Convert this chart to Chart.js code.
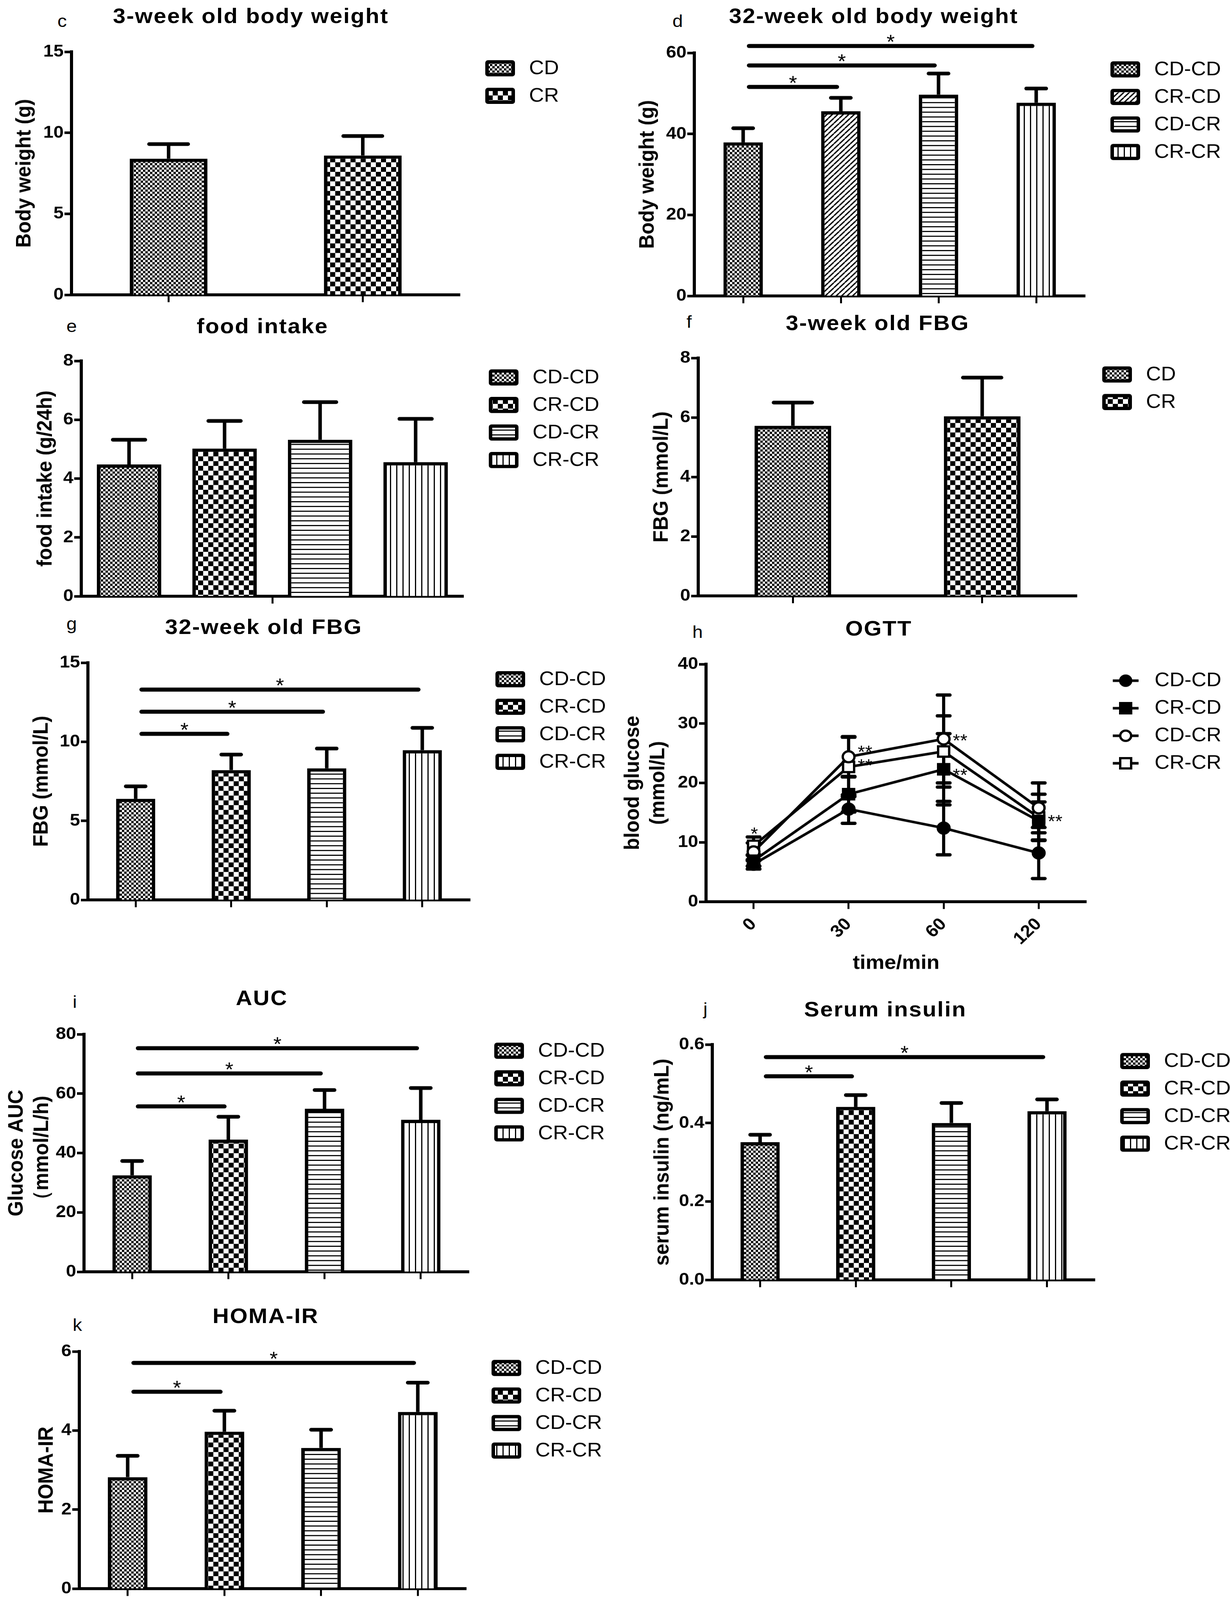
<!DOCTYPE html>
<html>
<head>
<meta charset="utf-8">
<title>Body weight, FBG, OGTT, insulin and HOMA-IR</title>
<script src="https://cdn.jsdelivr.net/npm/chart.js@4.4.1/dist/chart.umd.min.js"></script>
<style>
  html, body { margin: 0; padding: 0; background: #fff; overflow: hidden; }
  #page { position: relative; width: 3148px; height: 4358px; overflow: hidden; background: #fff;
          font-family: "Liberation Sans", Arial, sans-serif; color: #000; transform-origin: 0 0; }
  #page canvas { position: absolute; }
  .title { position: absolute; font-weight: bold; font-size: 58px; line-height: 1; letter-spacing: 2.5px;
           white-space: nowrap; transform: translateX(-50%); }
  .letter { position: absolute; font-size: 48px; line-height: 1; }
</style>
</head>
<body>
<div id="page"></div>
<script>
// ---- data ----
const groups2 = ['CD', 'CR'];
const groups4 = ['CD-CD', 'CR-CD', 'CD-CR', 'CR-CR'];

const bw3Mean = [8.4, 8.6];            // c: 3-week body weight (g)
const bw3Sd = [0.9, 1.2];

const bw32Mean = [37.9, 45.6, 49.7, 47.7];   // d: 32-week body weight (g)
const bw32Sd = [3.5, 3.3, 5.2, 3.5];
const bw32Sig = [[0, 1], [0, 2], [0, 3]];
const bw32SigY = [51.6, 56.9, 61.7];

const foodMean = [4.48, 5.02, 5.32, 4.56];   // e: food intake (g/24h)
const foodSd = [0.84, 0.94, 1.28, 1.47];

const fbg3Mean = [5.72, 6.04];         // f: 3-week FBG (mmol/L)
const fbg3Sd = [0.78, 1.30];

const fbg32Mean = [6.39, 8.21, 8.32, 9.47];  // g: 32-week FBG (mmol/L)
const fbg32Sd = [0.79, 0.98, 1.25, 1.41];
const fbg32Sig = [[0, 1], [0, 2], [0, 3]];
const fbg32SigY = [10.5, 11.9, 13.3];

const ogttTimes = ['0', '30', '60', '120'];  // h: OGTT blood glucose (mmol/L)
const ogttCdCd = [6.3, 15.6, 12.4, 8.2];
const ogttCdCdSd = [0.8, 2.4, 4.5, 4.3];
const ogttCrCd = [6.9, 18.1, 22.3, 13.6];
const ogttCrCdSd = [0.9, 3.0, 6.0, 3.2];
const ogttCdCr = [8.4, 24.4, 27.4, 15.8];
const ogttCdCrSd = [1.5, 3.4, 7.4, 4.2];
const ogttCrCr = [9.4, 22.7, 25.3, 14.2];
const ogttCrCrSd = [1.5, 5.0, 6.0, 3.9];
const ogttStarText = ['*', '**', '**', '**', '**', '**'];
const ogttStarAt = [0, 1, 1, 2, 2, 3];
const ogttStarY = [12.1, 25.9, 23.6, 27.8, 22.0, 14.2];

const aucMean = [32.5, 44.5, 54.9, 51.2];    // i: glucose AUC (mmol/L/h)
const aucSd = [4.8, 7.7, 6.3, 10.7];
const aucSig = [[0, 1], [0, 2], [0, 3]];
const aucSigY = [55.7, 66.8, 75.3];

const insulinMean = [0.351, 0.441, 0.400, 0.430];  // j: serum insulin (ng/mL)
const insulinSd = [0.019, 0.030, 0.051, 0.030];
const insulinSig = [[0, 1], [0, 3]];
const insulinSigY = [0.519, 0.568];

const homaMean = [2.82, 3.97, 3.56, 4.47];   // k: HOMA-IR
const homaSd = [0.54, 0.53, 0.46, 0.74];
const homaSig = [[0, 1], [0, 3]];
const homaSigY = [4.98, 5.71];

// ---- page layout (pixels of the 3148 x 4358 figure) ----
const FONT = '"Liberation Sans", Arial, sans-serif';
const PAGE_W = 3148, PAGE_H = 4358;
const COL_W = 1574;
const AXIS_H = 32;
const layout = {
  c: { left: 0,    top: 0,    axisX: 183,  yTop: 141,  yBottom: 803,  xRight: 1177, yTitleX: 63,   title: [642, 63],    letter: [147, 74] },
  d: { left: 1574, top: 0,    axisX: 1777, yTop: 144,  yBottom: 806,  xRight: 2777, yTitleX: 1658, title: [2236, 63],   letter: [1721, 74] },
  e: { left: 0,    top: 840,  axisX: 208,  yTop: 983,  yBottom: 1624, xRight: 1186, yTitleX: 117,  title: [672, 908],   letter: [170, 905] },
  f: { left: 1574, top: 840,  axisX: 1787, yTop: 975,  yBottom: 1623, xRight: 2756, yTitleX: 1694, title: [2246, 899],  letter: [1757, 894] },
  g: { left: 0,    top: 1660, axisX: 225,  yTop: 1805, yBottom: 2451, xRight: 1203, yTitleX: 107,  title: [675, 1727],  letter: [170, 1716] },
  h: { left: 1574, top: 1660, axisX: 1807, yTop: 1809, yBottom: 2456, xRight: 2780, yTitleX: 1620, title: [2249, 1731], letter: [1772, 1738] },
  i: { left: 0,    top: 2660, axisX: 215,  yTop: 2817, yBottom: 3464, xRight: 1200, yTitleX: 43,   title: [670, 2738],  letter: [186, 2746] },
  j: { left: 1574, top: 2660, axisX: 1823, yTop: 2845, yBottom: 3486, xRight: 2802, yTitleX: 1696, title: [2266, 2768], letter: [1800, 2765] },
  k: { left: 0,    top: 3500, axisX: 203,  yTop: 3681, yBottom: 4327, xRight: 1193, yTitleX: 120,  title: [680, 3604],  letter: [186, 3626] }
};

Chart.defaults.font.family = FONT;
Chart.defaults.color = '#000';

const page = document.getElementById('page');

// the figure is laid out at 3148 x 4358, then stretched to whatever the window shows
function fitPage() {
  const sx = window.innerWidth / PAGE_W;
  const sy = window.innerHeight / PAGE_H;
  page.style.transform = 'scale(' + sx + ',' + sy + ')';
}
fitPage();

function addText(cls, text, x, baseline, size) {
  const d = document.createElement('div');
  d.className = cls;
  d.textContent = text;
  d.style.left = x + 'px';
  d.style.top = (baseline - Math.round(size * 0.85)) + 'px';
  page.appendChild(d);
}

function addCanvas(box, axisH) {
  const c = document.createElement('canvas');
  const h = box.yBottom - box.top + axisH;
  c.width = COL_W;
  c.height = h;
  c.style.left = box.left + 'px';
  c.style.top = box.top + 'px';
  c.style.width = COL_W + 'px';
  c.style.height = h + 'px';
  page.appendChild(c);
  return c;
}

// black/white fill patterns, GraphPad style
function makePattern(ctx, kind) {
  const t = document.createElement('canvas');
  const g = t.getContext('2d');
  const size = { fine: 12, coarse: 26, diag: 14, hlines: 13, vlines: 16 }[kind];
  t.width = t.height = size;
  g.fillStyle = '#fff';
  g.fillRect(0, 0, size, size);
  g.fillStyle = '#000';
  g.strokeStyle = '#000';
  if (kind === 'fine' || kind === 'coarse') {
    const s = size / 2;
    g.fillRect(0, 0, s, s);
    g.fillRect(s, s, s, s);
  } else if (kind === 'diag') {
    g.lineWidth = 3.5;
    [-size, 0, size].forEach(dx => {
      g.beginPath();
      g.moveTo(dx, size);
      g.lineTo(dx + size, 0);
      g.stroke();
    });
  } else if (kind === 'hlines') {
    g.fillRect(0, 5, size, 3);
  } else if (kind === 'vlines') {
    g.fillRect(6, 0, 3, size);
  }
  return ctx.createPattern(t, 'repeat');
}

function yAxis(box, max, step, title, fmt) {
  return {
    min: 0, max: max, z: 1,
    afterFit: s => { s.width = box.axisX - box.left; },
    border: { display: true, color: '#000', width: 8 },
    grid: { display: true, drawOnChartArea: false, drawTicks: true, tickLength: 18, tickWidth: 7, tickColor: '#000' },
    ticks: { stepSize: step, padding: 2, font: { size: 47, weight: 'bold' }, callback: fmt || (v => v) },
    title: {
      display: true, text: title,
      font: { size: 54, weight: 'bold', lineHeight: 1.2 },
      padding: { top: box.yTitleX - box.left - 32.4, bottom: 0 }
    }
  };
}

// one-sided SD bars on top of each column
const columnErrors = {
  id: 'columnErrors',
  afterDatasetsDraw(chart) {
    const ds = chart.data.datasets[0];
    const y = chart.scales.y;
    const ctx = chart.ctx;
    ctx.save();
    ctx.strokeStyle = '#000';
    chart.getDatasetMeta(0).data.forEach((bar, i) => {
      const top = y.getPixelForValue(ds.data[i] + ds.errors[i]);
      const half = bar.width / 4;
      ctx.lineWidth = 9;
      ctx.lineCap = 'butt';
      ctx.beginPath();
      ctx.moveTo(bar.x, bar.y);
      ctx.lineTo(bar.x, top);
      ctx.stroke();
      ctx.lineWidth = 10;
      ctx.lineCap = 'round';
      ctx.beginPath();
      ctx.moveTo(bar.x - half, top);
      ctx.lineTo(bar.x + half, top);
      ctx.stroke();
    });
    ctx.restore();
  }
};

function sigBars(pairs, heights) {
  return {
    id: 'sigBars',
    afterDatasetsDraw(chart) {
      if (!pairs) return;
      const ctx = chart.ctx, x = chart.scales.x, y = chart.scales.y;
      ctx.save();
      ctx.strokeStyle = '#000';
      ctx.fillStyle = '#000';
      ctx.lineWidth = 11;
      ctx.lineCap = 'round';
      ctx.font = '54px ' + FONT;
      ctx.textAlign = 'center';
      ctx.textBaseline = 'alphabetic';
      pairs.forEach(([a, b], i) => {
        const x1 = x.getPixelForValue(a) + 15;
        const x2 = x.getPixelForValue(b) - 10;
        const py = y.getPixelForValue(heights[i]);
        ctx.beginPath();
        ctx.moveTo(x1, py);
        ctx.lineTo(x2, py);
        ctx.stroke();
        ctx.fillText('*', (x1 + x2) / 2, py + 7);
      });
      ctx.restore();
    }
  };
}

function legendText(ctx, name, x, y) {
  ctx.fillStyle = '#000';
  ctx.font = '53px ' + FONT;
  ctx.textAlign = 'left';
  ctx.textBaseline = 'middle';
  ctx.fillText(name, x, y);
}

function barLegend(names, fills) {
  return {
    id: 'sideLegend',
    afterDraw(chart) {
      const ctx = chart.ctx, a = chart.chartArea;
      const x = a.right + 65;
      ctx.save();
      names.forEach((name, i) => {
        const y = a.top + 23 + i * 75;
        ctx.fillStyle = '#000';
        ctx.beginPath();
        ctx.roundRect(x, y, 76, 44, 7);
        ctx.fill();
        ctx.fillStyle = fills[i];
        ctx.fillRect(x + 9, y + 9, 58, 26);
        legendText(ctx, name, x + 112, y + 23);
      });
      ctx.restore();
    }
  };
}

// ---- column panels ----
const barPanels = [
  { key: 'c', title: '3-week old body weight', yTitle: 'Body weight (g)', names: groups2, mean: bw3Mean, sd: bw3Sd,
    fills: ['fine', 'coarse'], yMax: 15, step: 5, width: 0.40 },
  { key: 'd', title: '32-week old body weight', yTitle: 'Body weight (g)', names: groups4, mean: bw32Mean, sd: bw32Sd,
    fills: ['fine', 'diag', 'hlines', 'vlines'], yMax: 60, step: 20, width: 0.404, sig: bw32Sig, sigY: bw32SigY },
  { key: 'e', title: 'food intake', yTitle: 'food intake (g/24h)', names: groups4, mean: foodMean, sd: foodSd,
    fills: ['fine', 'coarse', 'hlines', 'vlines'], yMax: 8, step: 2, width: 0.675, middleTick: true },
  { key: 'f', title: '3-week old FBG', yTitle: 'FBG (mmol/L)', names: groups2, mean: fbg3Mean, sd: fbg3Sd,
    fills: ['fine', 'coarse'], yMax: 8, step: 2, width: 0.405 },
  { key: 'g', title: '32-week old FBG', yTitle: 'FBG (mmol/L)', names: groups4, mean: fbg32Mean, sd: fbg32Sd,
    fills: ['fine', 'coarse', 'hlines', 'vlines'], yMax: 15, step: 5, width: 0.41, sig: fbg32Sig, sigY: fbg32SigY },
  { key: 'i', title: 'AUC', yTitle: ['Glucose AUC', '（mmol/L/h)'], names: groups4, mean: aucMean, sd: aucSd,
    fills: ['fine', 'coarse', 'hlines', 'vlines'], yMax: 80, step: 20, width: 0.41, sig: aucSig, sigY: aucSigY },
  { key: 'j', title: 'Serum insulin', yTitle: 'serum insulin (ng/mL)', names: groups4, mean: insulinMean, sd: insulinSd,
    fills: ['fine', 'coarse', 'hlines', 'vlines'], yMax: 0.6, step: 0.2, width: 0.41, sig: insulinSig, sigY: insulinSigY,
    fmt: v => v.toFixed(1) },
  { key: 'k', title: 'HOMA-IR', yTitle: 'HOMA-IR', names: groups4, mean: homaMean, sd: homaSd,
    fills: ['fine', 'coarse', 'hlines', 'vlines'], yMax: 6, step: 2, width: 0.41, sig: homaSig, sigY: homaSigY }
];

barPanels.forEach(p => {
  const box = layout[p.key];
  addText('title', p.title, box.title[0], box.title[1], 58);
  addText('letter', p.key, box.letter[0], box.letter[1], 48);
  const canvas = addCanvas(box, AXIS_H);
  const ctx = canvas.getContext('2d');
  const fills = p.fills.map(k => makePattern(ctx, k));

  new Chart(canvas, {
    type: 'bar',
    data: {
      labels: p.names,
      datasets: [{
        data: p.mean,
        errors: p.sd,
        backgroundColor: fills,
        borderColor: '#000',
        borderWidth: 9,
        borderSkipped: 'start',
        categoryPercentage: 1,
        barPercentage: p.width
      }]
    },
    options: {
      responsive: false,
      maintainAspectRatio: false,
      devicePixelRatio: 1,
      animation: false,
      layout: { padding: { left: 0, top: box.yTop - box.top, right: box.left + COL_W - box.xRight, bottom: 0 } },
      plugins: { legend: { display: false }, tooltip: { enabled: false } },
      scales: {
        x: {
          type: 'category', offset: true, z: 1,
          afterFit: s => { s.height = AXIS_H; },
          border: { display: true, color: '#000', width: 8 },
          grid: {
            display: true, offset: !!p.middleTick, drawOnChartArea: false, drawTicks: true,
            tickLength: 20, tickWidth: 5,
            tickColor: p.middleTick ? (c => (c.index === 2 ? '#000' : 'rgba(0,0,0,0)')) : '#000'
          },
          ticks: { display: false }
        },
        y: yAxis(box, p.yMax, p.step, p.yTitle, p.fmt)
      }
    },
    plugins: [columnErrors, sigBars(p.sig, p.sigY), barLegend(p.names, fills)]
  });
});

// ---- OGTT panel ----
(function () {
  const box = layout.h;
  addText('title', 'OGTT', box.title[0], box.title[1], 58);
  addText('letter', 'h', box.letter[0], box.letter[1], 48);
  const H = 2660 - box.yBottom;
  const canvas = addCanvas(box, H);

  const series = [
    { label: 'CD-CD', data: ogttCdCd, errors: ogttCdCdSd, shape: 'circle', filled: true },
    { label: 'CR-CD', data: ogttCrCd, errors: ogttCrCdSd, shape: 'rect', filled: true },
    { label: 'CD-CR', data: ogttCdCr, errors: ogttCdCrSd, shape: 'circle', filled: false },
    { label: 'CR-CR', data: ogttCrCr, errors: ogttCrCrSd, shape: 'rect', filled: false }
  ];

  function marker(ctx, s, x, y) {
    ctx.fillStyle = s.filled ? '#000' : '#fff';
    ctx.strokeStyle = '#000';
    ctx.lineWidth = 6;
    ctx.beginPath();
    if (s.shape === 'circle') ctx.arc(x, y, 14, 0, Math.PI * 2);
    else ctx.rect(x - 14, y - 14, 28, 28);
    ctx.fill();
    ctx.stroke();
  }

  const ogttErrors = {
    id: 'ogttErrors',
    beforeDatasetsDraw(chart) {
      const ctx = chart.ctx, y = chart.scales.y;
      ctx.save();
      ctx.strokeStyle = '#000';
      chart.data.datasets.forEach((ds, di) => {
        chart.getDatasetMeta(di).data.forEach((pt, i) => {
          const hi = y.getPixelForValue(ds.data[i] + ds.errors[i]);
          const lo = y.getPixelForValue(ds.data[i] - ds.errors[i]);
          ctx.lineWidth = 8;
          ctx.lineCap = 'butt';
          ctx.beginPath();
          ctx.moveTo(pt.x, hi);
          ctx.lineTo(pt.x, lo);
          ctx.stroke();
          ctx.lineWidth = 9;
          ctx.lineCap = 'round';
          [hi, lo].forEach(py => {
            ctx.beginPath();
            ctx.moveTo(pt.x - 16, py);
            ctx.lineTo(pt.x + 16, py);
            ctx.stroke();
          });
        });
      });
      ctx.restore();
    }
  };

  const ogttStars = {
    id: 'ogttStars',
    afterDatasetsDraw(chart) {
      const ctx = chart.ctx, x = chart.scales.x, y = chart.scales.y;
      ctx.save();
      ctx.fillStyle = '#000';
      ctx.font = '48px ' + FONT;
      ctx.textAlign = 'center';
      ctx.textBaseline = 'alphabetic';
      ogttStarText.forEach((t, i) => {
        const px = x.getPixelForValue(ogttStarAt[i]) + (t === '*' ? 2 : 42);
        ctx.fillText(t, px, y.getPixelForValue(ogttStarY[i]) + 27);
      });
      ctx.restore();
    }
  };

  const ogttLegend = {
    id: 'ogttLegend',
    afterDraw(chart) {
      const ctx = chart.ctx, a = chart.chartArea;
      const x = a.right + 68;
      ctx.save();
      series.forEach((s, i) => {
        const cy = a.top + 45 + i * 75;
        ctx.strokeStyle = '#000';
        ctx.lineWidth = 7;
        ctx.beginPath();
        ctx.moveTo(x, cy);
        ctx.lineTo(x + 66, cy);
        ctx.stroke();
        marker(ctx, s, x + 33, cy);
        legendText(ctx, s.label, x + 107, cy);
      });
      ctx.restore();
    }
  };

  new Chart(canvas, {
    type: 'line',
    data: {
      labels: ogttTimes,
      datasets: series.map(s => ({
        label: s.label,
        data: s.data,
        errors: s.errors,
        borderColor: '#000',
        borderWidth: 7,
        tension: 0,
        fill: false,
        pointStyle: s.shape,
        pointRadius: s.shape === 'circle' ? 15 : 20,
        pointBackgroundColor: s.filled ? '#000' : '#fff',
        pointBorderColor: '#000',
        pointBorderWidth: 6
      }))
    },
    options: {
      responsive: false,
      maintainAspectRatio: false,
      devicePixelRatio: 1,
      animation: false,
      layout: { padding: { left: 0, top: box.yTop - box.top, right: box.left + COL_W - box.xRight, bottom: 0 } },
      plugins: { legend: { display: false }, tooltip: { enabled: false } },
      scales: {
        x: {
          type: 'category', offset: true,
          afterFit: s => { s.height = H; },
          border: { display: true, color: '#000', width: 8 },
          grid: { display: true, offset: false, drawOnChartArea: false, drawTicks: true, tickLength: 20, tickWidth: 5, tickColor: '#000' },
          ticks: { font: { size: 47, weight: 'bold' }, minRotation: 45, maxRotation: 45, padding: 14, autoSkip: false },
          title: {
            display: true, text: 'time/min',
            font: { size: 54, weight: 'bold', lineHeight: 1.2 },
            padding: { top: 0, bottom: 3 }
          }
        },
        y: yAxis(box, 40, 10, ['blood glucose', '(mmol/L)'])
      }
    },
    plugins: [ogttErrors, ogttStars, ogttLegend]
  });
})();
</script>
</body>
</html>
